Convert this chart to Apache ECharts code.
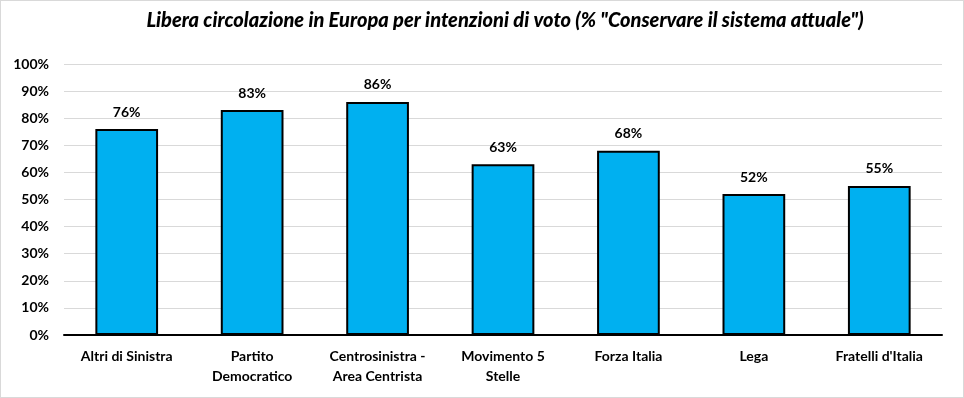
<!DOCTYPE html>
<html><head><meta charset="utf-8">
<script src="https://cdn.jsdelivr.net/npm/echarts@6/dist/echarts.min.js"></script>
<style>
html,body{margin:0;padding:0;background:#fff;}
#c{width:962px;height:396px;border:1px solid #D9D9D9;}
</style></head>
<body><div id="c"></div>
<script>
const categories = ["Altri di Sinistra", "Partito\nDemocratico", "Centrosinistra -\nArea Centrista", "Movimento 5\nStelle", "Forza Italia", "Lega", "Fratelli d'Italia"];
const values = [76, 83, 86, 63, 68, 52, 55];
const titleText = 'Libera circolazione in Europa per intenzioni di voto (% "Conservare il sistema attuale")';
const font = 'Lato, "Open Sans", sans-serif';
const chart = echarts.init(document.getElementById('c'));
chart.setOption({
  animation: false,
  title: {
    text: titleText, left: 499, textAlign: 'center', top: 5,
    textStyle: {fontFamily: font, fontStyle: 'italic', fontWeight: 900, fontSize: 20, color: '#000'}
  },
  grid: {left: 63, right: 21, top: 63, bottom: 62, containLabel: false},
  xAxis: {
    type: 'category', data: categories,
    axisLine: {lineStyle: {color: '#000', width: 2}},
    axisTick: {show: false},
    axisLabel: {fontFamily: font, fontWeight: 'bold', fontSize: 14, color: '#000', lineHeight: 20, margin: 11, interval: 0}
  },
  yAxis: {
    type: 'value', min: 0, max: 100, interval: 10,
    axisLine: {show: false}, axisTick: {show: false},
    splitLine: {lineStyle: {color: '#D9D9D9', width: 1}},
    axisLabel: {formatter: '{value}%', fontFamily: font, fontWeight: 'bold', fontSize: 14, color: '#000', margin: 15}
  },
  series: [{
    type: 'bar', data: values, barWidth: '50%',
    itemStyle: {color: '#00B0F0', borderColor: '#000', borderWidth: 2},
    label: {show: true, position: 'top', formatter: '{c}%', distance: 10,
      fontFamily: font, fontWeight: 'bold', fontSize: 14, color: '#000'}
  }]
});
</script></body></html>
